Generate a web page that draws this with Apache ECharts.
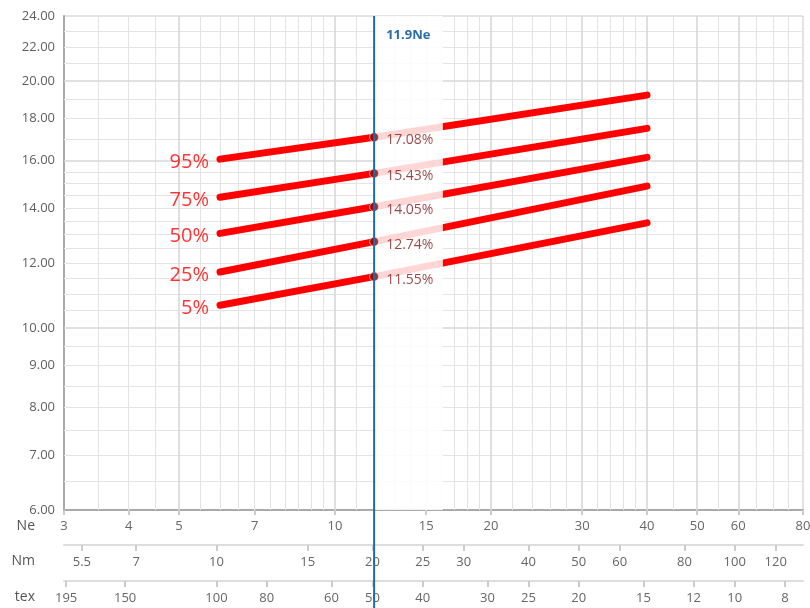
<!DOCTYPE html>
<html>
<head>
<meta charset="utf-8">
<script src="https://cdn.jsdelivr.net/npm/echarts@6/dist/echarts.min.js"></script>
<style>
  html, body { margin: 0; padding: 0; background: #fff; }
  #chart { width: 810px; height: 608px; }
</style>
</head>
<body>
<div id="chart"></div>
<script>
// Count scales: English cotton count (Ne), metric count (Nm) and tex
const NM_PER_NE = 1.6933;
const TEX_TIMES_NE = 590.5;

// Labelled ticks on each scale
const neTicks = [3, 4, 5, 7, 10, 15, 20, 30, 40, 50, 60, 80];
const nmTicks = [5.5, 7, 10, 15, 20, 25, 30, 40, 50, 60, 80, 100, 120];
const texTicks = [195, 150, 100, 80, 60, 50, 40, 30, 25, 20, 15, 12, 10, 8];
const cvTicks = [6, 7, 8, 9, 10, 12, 14, 16, 18, 20, 22, 24];

// Background grid (log paper)
const neGridMinor = [3.5, 4, 4.5, 5.5, 6, 6.5, 7, 7.5, 8, 8.5, 9, 9.5, 11, 12, 13, 14, 15, 16, 17, 18, 19,
  22, 24, 26, 28, 32, 34, 36, 38, 45, 55, 65, 70, 75];
const neGridMajor = [5, 10, 20, 30, 40, 50, 60];
const cvGridMinor = [6.5, 7, 7.5, 8, 8.5, 9, 9.5, 10.5, 11, 11.5, 12, 12.5, 13, 13.5, 14, 14.5, 15, 15.5,
  17, 18, 19, 21, 22, 23];
const cvGridMajor = [10, 16, 20];

// CV% percentile lines, sampled at Ne 6, 11.9 and 40
const cutNe = 11.9;
const bandEndNe = 16.15;
const lineNe = [6, 11.9, 40];
const percentileNames = ['95%', '75%', '50%', '25%', '5%'];
const cv95 = [16.06, 17.08, 19.22];
const cv75 = [14.43, 15.43, 17.51];
const cv50 = [13.04, 14.05, 16.14];
const cv25 = [11.70, 12.74, 14.89];
const cv05 = [10.66, 11.55, 13.43];
const percentileValues = [cv95, cv75, cv50, cv25, cv05];

const FONT = '"Open Sans", "Noto Sans", sans-serif';
const chart = echarts.init(document.getElementById('chart'), null, { renderer: 'canvas' });

const gridLine = (list, axis, color, width) =>
  list.map(v => ({ [axis]: v, lineStyle: { color, width, type: 'solid' } }));

const lineSeries = percentileNames.map((name, i) => ({
  name,
  type: 'line',
  z: 3,
  symbol: 'none',
  silent: true,
  lineStyle: { color: '#ff0000', width: 7, cap: 'round', type: 'solid' },
  data: lineNe.map((ne, k) => [ne, percentileValues[i][k]])
}));

const cutIndex = lineNe.indexOf(cutNe);

const option = {
  animation: false,
  textStyle: { fontFamily: FONT },
  grid: {
    left: 64, right: 7, top: 16, bottom: 98,
    outerBoundsMode: 'none', containLabel: false,
    show: true, borderColor: '#c8c8c8', borderWidth: 1
  },
  xAxis: [
    {
      type: 'log', min: 3, max: 80, position: 'bottom',
      name: 'Ne', nameLocation: 'start', nameGap: 29,
      nameTextStyle: { color: '#555', fontSize: 14, verticalAlign: 'top', padding: [9, 0, 0, 0] },
      axisLine: { onZero: false, lineStyle: { color: '#aaaaaa', width: 2 } },
      axisTick: { show: true, customValues: neTicks, length: 5, lineStyle: { color: '#cccccc', width: 2 } },
      axisLabel: { customValues: neTicks, color: '#666', fontSize: 13, margin: 10, formatter: v => String(v) },
      splitLine: { show: false }
    },
    {
      type: 'log', min: 3 * NM_PER_NE, max: 80 * NM_PER_NE, position: 'bottom', offset: 35,
      name: 'Nm', nameLocation: 'start', nameGap: 29,
      nameTextStyle: { color: '#555', fontSize: 14, verticalAlign: 'top', padding: [9, 0, 0, 0] },
      axisLine: { onZero: false, lineStyle: { color: '#dddddd', width: 2 } },
      axisTick: { show: true, customValues: nmTicks, length: 6, lineStyle: { color: '#cccccc', width: 2 } },
      axisLabel: { customValues: nmTicks, color: '#666', fontSize: 13, margin: 11, formatter: v => String(v) },
      splitLine: { show: false }
    },
    {
      type: 'log', min: TEX_TIMES_NE / 80, max: TEX_TIMES_NE / 3, inverse: true, position: 'bottom', offset: 71,
      name: 'tex', nameLocation: 'end', nameGap: 29,
      nameTextStyle: { color: '#555', fontSize: 14, verticalAlign: 'top', padding: [9, 0, 0, 0] },
      axisLine: { onZero: false, lineStyle: { color: '#dddddd', width: 2 } },
      axisTick: { show: true, customValues: texTicks, length: 6, lineStyle: { color: '#cccccc', width: 2 } },
      axisLabel: { customValues: texTicks, color: '#666', fontSize: 13, margin: 11, formatter: v => String(v) },
      splitLine: { show: false }
    }
  ],
  yAxis: {
    type: 'log', min: 6, max: 24,
    axisLine: { show: true, onZero: false, lineStyle: { color: '#aaaaaa', width: 2 } },
    axisTick: { show: false },
    axisLabel: { customValues: cvTicks, color: '#5f5f5f', fontSize: 13, margin: 9, formatter: v => v.toFixed(2) },
    splitLine: { show: false }
  },
  series: [
    {
      // log-paper grid
      type: 'line', z: 1, silent: true, symbol: 'none', data: [],
      markLine: {
        z: 1, silent: true, symbol: 'none', label: { show: false }, animation: false,
        data: [
          ...gridLine(neGridMinor, 'xAxis', '#e4e4e4', 1),
          ...gridLine(cvGridMinor, 'yAxis', '#e4e4e4', 1),
          ...gridLine(neGridMajor, 'xAxis', '#d7d7d7', 1.6),
          ...gridLine(cvGridMajor, 'yAxis', '#d7d7d7', 1.6)
        ]
      }
    },
    ...lineSeries,
    {
      // pale band to the right of the selected count
      type: 'line', z: 4, silent: true, symbol: 'none', data: [],
      markArea: {
        z: 4, silent: true,
        itemStyle: { color: 'rgba(255,255,255,0.84)' },
        data: [[{ xAxis: cutNe, yAxis: 24 }, { xAxis: bandEndNe, yAxis: 6 }]]
      }
    },
    {
      // percentile names at the start of each line
      type: 'scatter', z: 5, silent: true, symbolSize: 0,
      data: percentileNames.map((name, i) => ({ value: [lineNe[0], percentileValues[i][0]], name })),
      label: {
        show: true, position: 'left', distance: 11, offset: [0, 3],
        formatter: p => p.name, color: '#ff0000', fontSize: 20
      }
    },
    {
      // readings at the selected count
      type: 'scatter', z: 6, silent: true, symbol: 'circle', symbolSize: 9,
      itemStyle: { color: '#850f0f', borderColor: 'rgba(255,255,255,0.7)', borderWidth: 1 },
      data: percentileValues.map(vals => [cutNe, vals[cutIndex]]),
      label: {
        show: true, position: 'right', distance: 7, offset: [0, 3],
        formatter: p => p.value[1].toFixed(2) + '%', color: '#7f1a1a', fontSize: 14
      }
    }
  ]
};

chart.setOption(option);

// Selected-count marker running through all three count scales
const cutX = chart.convertToPixel({ xAxisIndex: 0 }, cutNe);
const topY = chart.convertToPixel({ yAxisIndex: 0 }, 24);
chart.setOption({
  graphic: [
    {
      type: 'line', z: 100, silent: true,
      shape: { x1: cutX, y1: topY, x2: cutX, y2: 608 },
      style: { stroke: '#2369a3', lineWidth: 2 }
    },
    {
      type: 'text', z: 100, silent: true, x: cutX + 12, y: topY + 19,
      style: {
        text: cutNe + 'Ne', fill: '#2a6ea8', font: 'bold 13px ' + FONT,
        textAlign: 'left', textVerticalAlign: 'middle'
      }
    }
  ]
});
</script>
</body>
</html>
